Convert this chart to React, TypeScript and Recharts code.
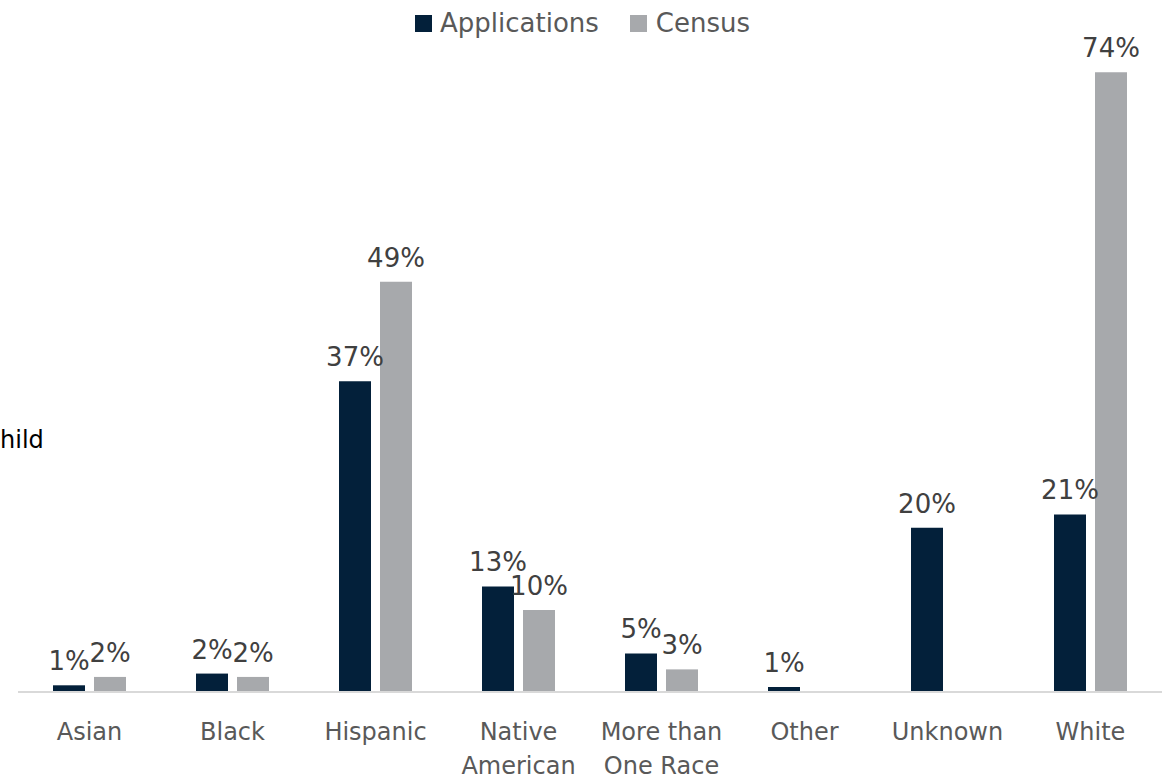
import React from 'react';
import { BarChart, Bar, XAxis, YAxis } from 'recharts';

const categories = ['Asian', 'Black', 'Hispanic', 'Native American', 'More than One Race', 'Other', 'Unknown', 'White'];
const tickLines = [['Asian'], ['Black'], ['Hispanic'], ['Native', 'American'], ['More than', 'One Race'], ['Other'], ['Unknown'], ['White']];
const applications = [0.8, 2.2, 37.1, 12.6, 4.6, 0.6, 19.6, 21.2];
const census: (number | null)[] = [1.8, 1.8, 49.0, 9.8, 2.7, null, null, 74.0];

const data = categories.map((name, i) => ({
  name,
  applications: applications[i],
  census: census[i],
}));

const NAVY = '#03203A';
const GRAY = '#A7A9AC';
const FONT = '"DejaVu Sans", Verdana, sans-serif';

const renderLabel = (props: any) => {
  const { x, y, width, value } = props;
  if (value == null) return null;
  return (
    <text x={x + width / 2} y={y - 15} textAnchor="middle" fill="#404040" fontSize={26} fontFamily={FONT}>
      {`${Math.round(value)}%`}
    </text>
  );
};

const CategoryTick = (props: any) => {
  const { x, y, index } = props;
  const lines = tickLines[index] || [];
  return (
    <text x={x} y={y} textAnchor="middle" fill="#595959" fontSize={24} fontFamily={FONT}>
      {lines.map((l, i) => (
        <tspan key={i} x={x} dy={i === 0 ? 40 : 34}>{l}</tspan>
      ))}
    </text>
  );
};

export default function App() {
  return (
    <div style={{ position: 'fixed', left: 0, top: 0, width: 1166, height: 780, background: '#fff', fontFamily: FONT }}>
      <BarChart
        width={1166}
        height={780}
        data={data}
        margin={{ top: 22, right: 4, left: 18, bottom: 0 }}
        barGap={9}
      >
        <XAxis
          dataKey="name"
          height={88}
          interval={0}
          tickLine={false}
          axisLine={{ stroke: '#D9D9D9', strokeWidth: 2 }}
          tick={<CategoryTick />}
        />
        <YAxis hide domain={[0, 80]} />
        <Bar dataKey="applications" fill={NAVY} barSize={32} isAnimationActive={false} label={renderLabel} />
        <Bar dataKey="census" fill={GRAY} barSize={32} isAnimationActive={false} label={renderLabel} />
      </BarChart>
      <div style={{ position: 'absolute', left: 0, top: 440, transform: 'translateY(-50%)', fontSize: 24, color: '#000', lineHeight: 1 }}>
        hild
      </div>
      <div style={{ position: 'absolute', left: 415, top: 7, display: 'flex', alignItems: 'center', fontSize: 26, color: '#595959', lineHeight: '32px' }}>
        <span style={{ width: 17, height: 17, background: NAVY, display: 'inline-block', marginRight: 8 }} />
        <span>Applications</span>
        <span style={{ width: 17, height: 17, background: GRAY, display: 'inline-block', marginLeft: 31, marginRight: 9 }} />
        <span>Census</span>
      </div>
    </div>
  );
}
